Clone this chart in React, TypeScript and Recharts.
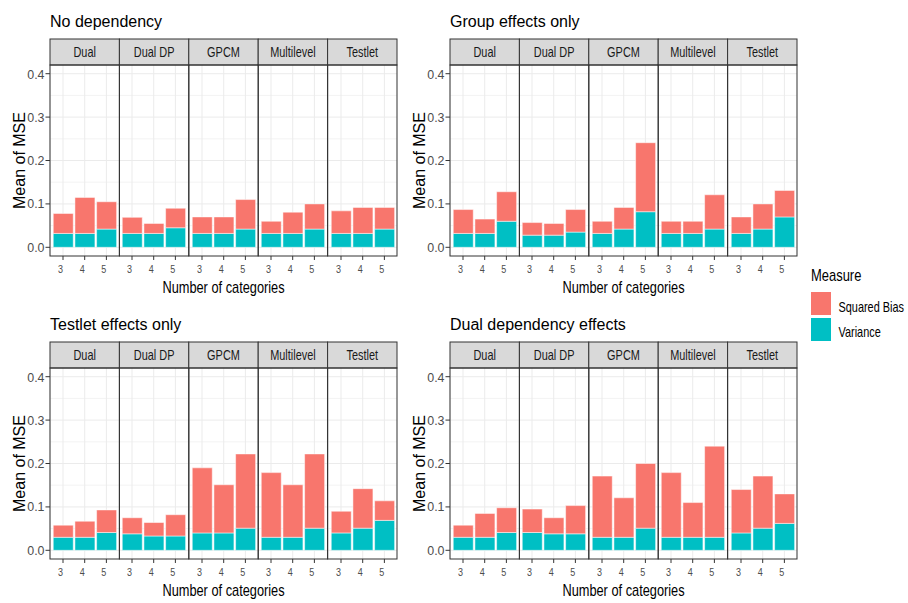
import { BarChart, Bar, XAxis, YAxis, CartesianGrid } from 'recharts';

// Facet labels, x categories and y ticks
const models = ['Dual', 'Dual DP', 'GPCM', 'Multilevel', 'Testlet'];
const categories = ['3', '4', '5'];
const majorTicks = [0, 0.1, 0.2, 0.3, 0.4];
const minorTicks = [0.05, 0.15, 0.25, 0.35];

// Mean MSE split into variance and squared bias, 3 categories per model
const noDepVariance = [0.032, 0.032, 0.042, 0.032, 0.032, 0.045, 0.032, 0.032, 0.042, 0.032, 0.032, 0.042, 0.032, 0.032, 0.042];
const noDepBias = [0.046, 0.083, 0.063, 0.037, 0.023, 0.045, 0.038, 0.038, 0.068, 0.028, 0.049, 0.058, 0.052, 0.06, 0.05];

const groupVariance = [0.032, 0.032, 0.06, 0.028, 0.028, 0.035, 0.032, 0.042, 0.082, 0.032, 0.032, 0.042, 0.032, 0.042, 0.07];
const groupBias = [0.055, 0.033, 0.068, 0.029, 0.027, 0.052, 0.028, 0.05, 0.159, 0.028, 0.028, 0.079, 0.038, 0.058, 0.061];

const testletVariance = [0.03, 0.03, 0.041, 0.038, 0.033, 0.033, 0.04, 0.04, 0.051, 0.03, 0.03, 0.051, 0.04, 0.051, 0.069];
const testletBias = [0.028, 0.037, 0.052, 0.037, 0.031, 0.049, 0.15, 0.111, 0.171, 0.149, 0.121, 0.171, 0.05, 0.091, 0.045];

const dualVariance = [0.03, 0.03, 0.041, 0.041, 0.038, 0.038, 0.03, 0.03, 0.051, 0.03, 0.03, 0.03, 0.04, 0.051, 0.062];
const dualBias = [0.028, 0.055, 0.057, 0.054, 0.037, 0.065, 0.141, 0.091, 0.149, 0.149, 0.08, 0.21, 0.1, 0.12, 0.068];

const panels = [
  { title: 'No dependency', variance: noDepVariance, bias: noDepBias, ox: 0, oy: 0 },
  { title: 'Group effects only', variance: groupVariance, bias: groupBias, ox: 400, oy: 0 },
  { title: 'Testlet effects only', variance: testletVariance, bias: testletBias, ox: 0, oy: 303 },
  { title: 'Dual dependency effects', variance: dualVariance, bias: dualBias, ox: 400, oy: 303 },
];

const BIAS_COLOR = '#F8766D';
const VAR_COLOR = '#00BFC4';
const FONT = '"Liberation Sans", Arial, sans-serif';

// panel geometry
const PLOT_L = 50;
const PLOT_W = 347;
const FW = PLOT_W / models.length;
const STRIP_T = 39;
const STRIP_H = 26;
const PLOT_T = STRIP_T + STRIP_H;
const PLOT_H = 191;
const XAXIS_H = 26;
const YAXIS_W = 50;
const BAND_PAD = (FW / 3.2) * 0.1;

function XTick({ x, y, payload }: any) {
  return (
    <text
      transform={`translate(${x - 2.5},${y + 11}) scale(0.82,1)`}
      textAnchor="middle"
      fontSize={11}
      fontFamily={FONT}
      fill="#4D4D4D"
    >
      {payload.value}
    </text>
  );
}

function YTick({ x, y, payload }: any) {
  return (
    <text
      transform={`translate(${x},${y + 4.5}) scale(0.92,1)`}
      textAnchor="end"
      fontSize={13.5}
      fontFamily={FONT}
      fill="#4D4D4D"
    >
      {Number(payload.value).toFixed(1)}
    </text>
  );
}

function Facet({ variance, bias, index, ox, oy }: any) {
  const first = index === 0;
  const data = categories.map((k, j) => ({
    k,
    variance: variance[index * 3 + j],
    bias: bias[index * 3 + j],
  }));
  const left = ox + PLOT_L + index * FW - (first ? YAXIS_W : 0);
  return (
    <div style={{ position: 'absolute', left, top: oy + PLOT_T }}>
      <BarChart
        width={FW + (first ? YAXIS_W : 0)}
        height={PLOT_H + XAXIS_H}
        data={data}
        margin={{ top: 0, right: 0, bottom: 0, left: 0 }}
        barCategoryGap="5%"
      >
        <CartesianGrid horizontalValues={minorTicks} vertical={false} stroke="#F3F3F3" />
        <CartesianGrid horizontalValues={majorTicks} stroke="#EBEBEB" />
        <XAxis
          dataKey="k"
          padding={{ left: BAND_PAD, right: BAND_PAD }}
          axisLine={false}
          tickSize={4}
          tickMargin={2}
          tickLine={{ stroke: '#333333' }}
          tick={XTick}
          height={XAXIS_H}
          interval={0}
        />
        <YAxis
          domain={[-0.02, 0.42]}
          allowDataOverflow
          ticks={majorTicks}
          hide={!first}
          width={YAXIS_W}
          axisLine={false}
          tickSize={4.5}
          tickMargin={1}
          tickLine={{ stroke: '#333333' }}
          tick={YTick}
        />
        <Bar dataKey="variance" stackId="mse" fill={VAR_COLOR} stroke="#ffffff" strokeWidth={0.5} isAnimationActive={false} />
        <Bar dataKey="bias" stackId="mse" fill={BIAS_COLOR} stroke="#ffffff" strokeWidth={0.5} isAnimationActive={false} />
      </BarChart>
    </div>
  );
}

// titles, facet strips, panel borders and axis titles drawn on top
function PanelFrame({ title, ox, oy }: any) {
  return (
    <g transform={`translate(${ox},${oy})`} fontFamily={FONT}>
      <text x={PLOT_L} y={26.7} fontSize={16} fill="#000">{title}</text>
      {models.map((m, i) => (
        <g key={m}>
          <rect x={PLOT_L + i * FW} y={STRIP_T} width={FW} height={STRIP_H} fill="#D9D9D9" stroke="#333333" strokeWidth={1} />
          <text
            transform={`translate(${PLOT_L + i * FW + FW / 2},${STRIP_T + 18}) scale(0.78,1)`}
            textAnchor="middle"
            fontSize={14}
            fill="#1A1A1A"
          >
            {m}
          </text>
          <rect x={PLOT_L + i * FW} y={PLOT_T} width={FW} height={PLOT_H} fill="none" stroke="#333333" strokeWidth={1} />
        </g>
      ))}
      <text
        transform={`translate(${PLOT_L + PLOT_W / 2},293) scale(0.8,1)`}
        textAnchor="middle"
        fontSize={16}
        fill="#000"
      >
        Number of categories
      </text>
      <text
        transform={`translate(25,${PLOT_T + PLOT_H / 2}) rotate(-90)`}
        textAnchor="middle"
        fontSize={16}
        fill="#000"
      >
        Mean of MSE
      </text>
    </g>
  );
}

function Legend() {
  return (
    <g fontFamily={FONT}>
      <text transform="translate(811,280.7) scale(0.81,1)" fontSize={16} fill="#000">Measure</text>
      <rect x={811} y={292} width={20} height={23} fill={BIAS_COLOR} />
      <rect x={811} y={318} width={20} height={23} fill={VAR_COLOR} />
      <text transform="translate(838.5,312) scale(0.78,1)" fontSize={14} fill="#000">Squared Bias</text>
      <text transform="translate(838.5,337) scale(0.78,1)" fontSize={14} fill="#000">Variance</text>
    </g>
  );
}

export default function App() {
  return (
    <div style={{ position: 'absolute', left: 0, top: 0, width: 908, height: 603, background: '#fff', overflow: 'hidden' }}>
      {panels.map((p) =>
        models.map((m, i) => (
          <Facet key={p.title + m} variance={p.variance} bias={p.bias} index={i} ox={p.ox} oy={p.oy} />
        ))
      )}
      <svg width={908} height={603} style={{ position: 'absolute', left: 0, top: 0, pointerEvents: 'none' }}>
        {panels.map((p) => (
          <PanelFrame key={p.title} title={p.title} ox={p.ox} oy={p.oy} />
        ))}
        <Legend />
      </svg>
    </div>
  );
}
